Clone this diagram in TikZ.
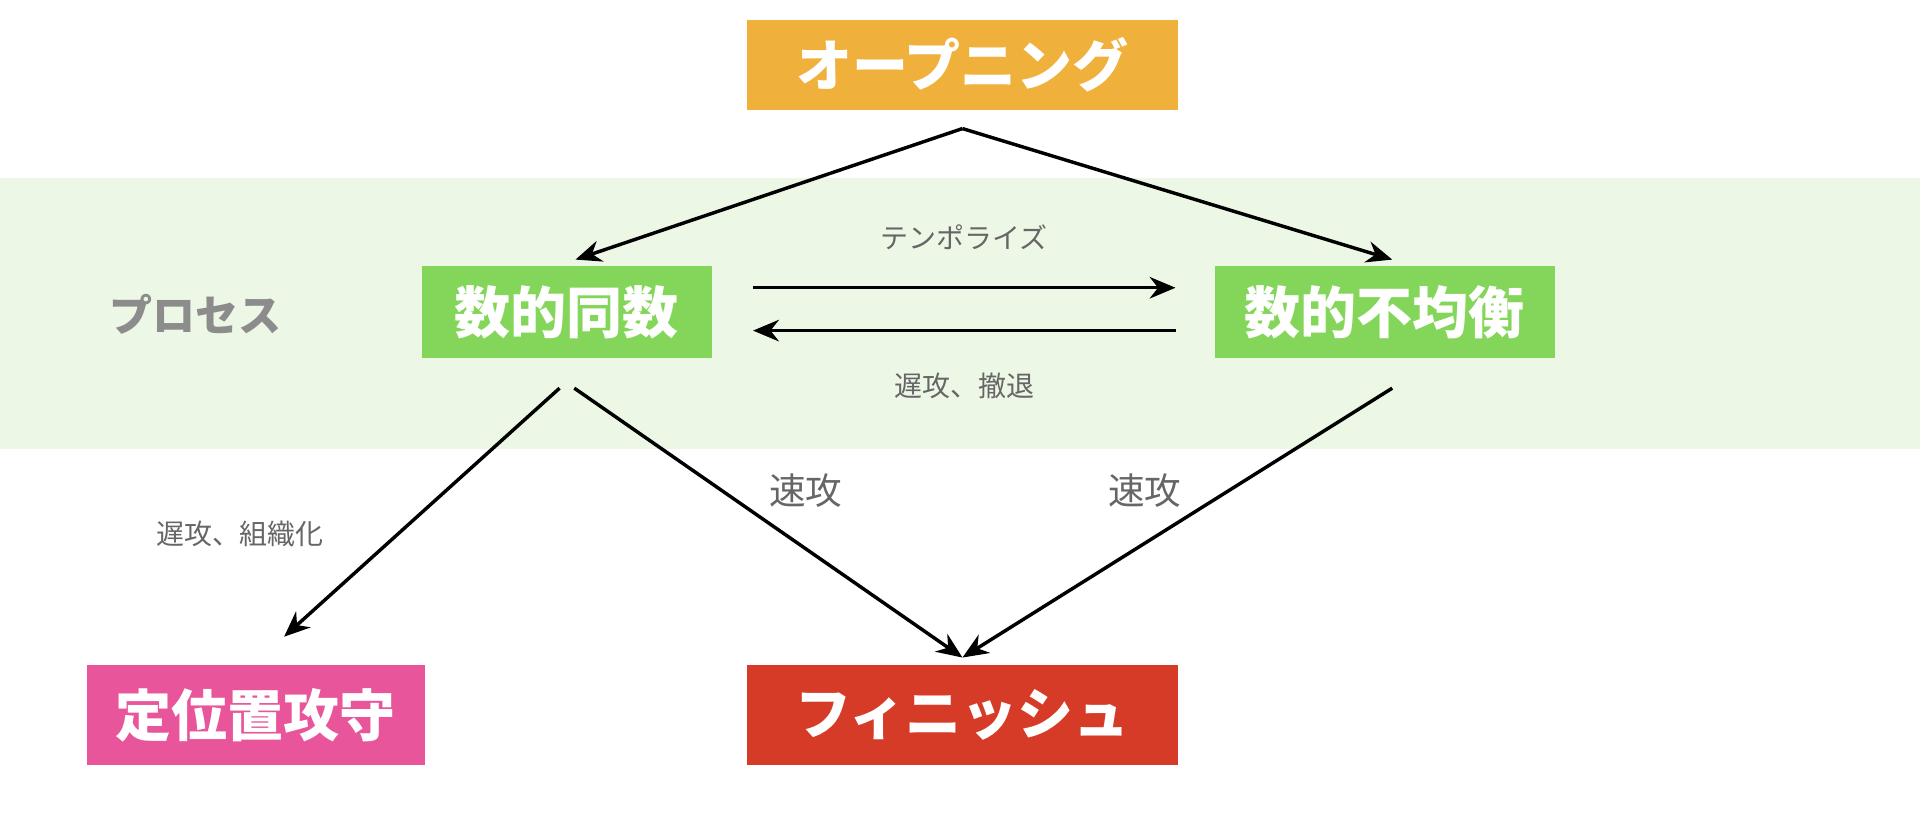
\documentclass[tikz,border=0pt]{standalone}
\usepackage{fontspec}
\setmainfont{Noto Sans CJK JP}
\usetikzlibrary{arrows.meta}
\definecolor{openc}{HTML}{F0B03C}
\definecolor{procc}{HTML}{84D65A}
\definecolor{bandc}{HTML}{EDF7E6}
\definecolor{setc}{HTML}{E8559A}
\definecolor{finc}{HTML}{D63B27}
\tikzset{
  phase/.style={inner sep=0pt, font=\fontsize{13}{13}\selectfont\bfseries, text=white},
  lbl/.style={text=black!60, font=\fontsize{6.5}{7}\selectfont},
  lblbig/.style={text=black!60, font=\fontsize{8.5}{9}\selectfont},
  arrow/.style={line width=0.8pt, -{Stealth[length=6pt,width=5pt]}}
}
\begin{document}
\begin{tikzpicture}[x=0.01cm,y=-0.01cm]
\useasboundingbox (0,0) rectangle (1568,670);
\fill[bandc] (0,145) rectangle (1568,367);
\node[text=black!45, font=\fontsize{10}{10}\selectfont\bfseries] (proc) at (160,257) {プロセス};
% boxes
\node (open) [phase, fill=openc, minimum width=3.52cm, minimum height=0.74cm] at (786,53) {オープニング};
\node (even) [phase, fill=procc, minimum width=2.36cm, minimum height=0.75cm] at (463,255) {数的同数};
\node (uneven) [phase, fill=procc, minimum width=2.77cm, minimum height=0.75cm] at (1131,255) {数的不均衡};
\node (setplay) [phase, fill=setc, minimum width=2.76cm, minimum height=0.82cm] at (209,584) {定位置攻守};
\node (finish) [phase, fill=finc, minimum width=3.52cm, minimum height=0.82cm] at (786,584) {フィニッシュ};
% arrow ends
\coordinate (o) at (786,105);
\coordinate (evenin) at (470,212);
\coordinate (unevenin) at (1137,212);
\coordinate (evenr1) at (615,235);
\coordinate (unevenl1) at (960,235);
\coordinate (unevenl2) at (960,270);
\coordinate (evenr2) at (615,270);
\coordinate (evenb1) at (457,317);
\coordinate (evenb2) at (469,317);
\coordinate (unevenb) at (1137,317);
\coordinate (setin) at (232,520);
\coordinate (finin) at (786,537);
\draw [arrow] (o) -- (evenin);
\draw [arrow] (o) -- (unevenin);
\draw [arrow] (evenr1) -- node[lbl, above=5pt] {テンポライズ} (unevenl1);
\draw [arrow] (unevenl2) -- node[lbl, below=6pt] {遅攻、撤退} (evenr2);
\draw [arrow] (evenb1) -- (setin);
\draw [arrow] (evenb2) -- (finin);
\draw [arrow] (unevenb) -- (finin);
\node[lblbig] (fast1) at (658,401) {速攻};
\node[lblbig] (fast2) at (935,401) {速攻};
\node[lbl] (slow) at (196,436) {遅攻、組織化};
\end{tikzpicture}
\end{document}
